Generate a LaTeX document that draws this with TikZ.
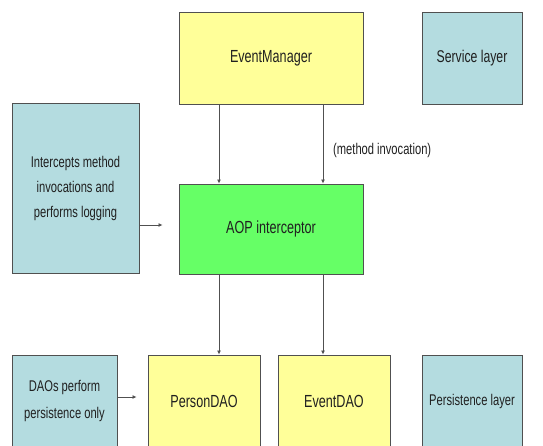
\documentclass[tikz,border=0pt]{standalone}
\usepackage{fontspec}
\setmainfont{Liberation Sans}[FakeStretch=0.72]
\usetikzlibrary{arrows.meta}
\definecolor{boxyellow}{HTML}{FFFF99}
\definecolor{boxblue}{HTML}{B4DCE0}
\definecolor{boxgreen}{HTML}{66FF66}
\definecolor{edge}{HTML}{505050}
\definecolor{txt}{HTML}{202020}
\begin{document}
\begin{tikzpicture}[x=1pt,y=-1pt,
  box/.style={draw=edge, line width=1pt, inner sep=0pt, text=txt, align=center},
  main/.style={box, font=\fontsize{17.5}{20}\selectfont},
  note/.style={box, fill=boxblue, font=\fontsize{15.5}{25}\selectfont},
  arr/.style={draw=edge, line width=0.7pt, -{Latex[length=4pt,width=4pt]}}]
\clip (0,0) rectangle (543,445);
\fill[white] (0,0) rectangle (543,445);
% service layer
\node[main, fill=boxyellow, minimum width=184pt, minimum height=92pt] (em) at (271,58) {EventManager};
\node[note, font=\fontsize{17}{20}\selectfont, minimum width=100pt, minimum height=92pt] (svc) at (472,58) {Service layer};
% interceptor
\node[note, minimum width=127pt, minimum height=170pt] (icpt) at (75.5,188) {Intercepts method\\invocations and\\performs logging};
\node[main, fill=boxgreen, minimum width=184pt, minimum height=90pt] (aop) at (271,229) {AOP interceptor};
% persistence layer
\node[note, font=\fontsize{15.5}{27}\selectfont, minimum width=105pt, minimum height=92pt] (daodesc) at (64.5,401) {DAOs perform\\persistence only};
\node[main, fill=boxyellow, minimum width=112pt, minimum height=92pt] (pdao) at (204,401) {PersonDAO};
\node[main, fill=boxyellow, minimum width=112pt, minimum height=92pt] (edao) at (334,401) {EventDAO};
\node[note, minimum width=100pt, minimum height=92pt] (pers) at (472,401) {Persistence layer};
% label
\node[anchor=west, text=txt, font=\fontsize{15.5}{18}\selectfont, inner sep=0pt] (lbl) at (333,150) {(method invocation)};
% connector ends
\coordinate (ia) at ([yshift=-37pt]icpt.east);
\coordinate (da) at ([yshift=4pt]daodesc.east);
% connectors
\draw[arr] ([xshift=-52pt]em.south) -- ([xshift=-52pt]aop.north);
\draw[arr] ([xshift=52pt]em.south) -- ([xshift=52pt]aop.north);
\draw[arr] ([xshift=-52pt]aop.south) -- ([xshift=-52pt]aop.south |- pdao.north);
\draw[arr] ([xshift=52pt]aop.south) -- ([xshift=52pt]aop.south |- edao.north);
\draw[arr] (ia) -- ([xshift=-16pt]aop.west |- ia);
\draw[arr] (da) -- ([xshift=-11pt]pdao.west |- da);
\end{tikzpicture}
\end{document}
